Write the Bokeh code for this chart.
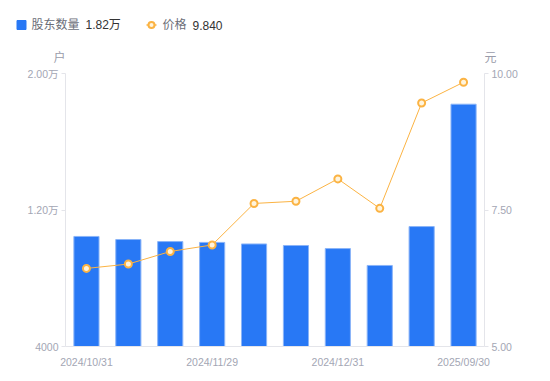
from bokeh.plotting import figure
from bokeh.layouts import column
from bokeh.models import (Range1d, LinearAxis, FixedTicker, FactorRange, ColumnDataSource,
                          CustomJSTickFormatter)
from bokeh.core.properties import value
from bokeh.embed import file_html
from bokeh.resources import INLINE

dates = ["2024/10/31", "2024/11/08", "2024/11/20", "2024/11/29", "2024/12/10",
         "2024/12/20", "2024/12/31", "2025/03/31", "2025/06/30", "2025/09/30"]
holders = [10450, 10270, 10150, 10100, 10010, 9920, 9740, 8750, 11030, 18200]
prices = [6.43, 6.51, 6.74, 6.86, 7.62, 7.66, 8.07, 7.53, 9.46, 9.84]
left_ticks = [4000, 12000, 20000]
left_labels = ["4000", "1.20万", "2.00万"]
right_ticks = [5.0, 7.5, 10.0]
right_labels = ["5.00", "7.50", "10.00"]
shown_dates = ["2024/10/31", "2024/11/29", "2024/12/31", "2025/09/30"]
series_names = ["股东数量", "价格"]
unit_names = ["户", "元"]

FONT = "Liberation Sans, Noto Sans CJK SC"
TICK_COLOR = "#a3a6b4"
AXIS_COLOR = "#e4e5ea"
BAR_COLOR = "#2878f5"
LINE_COLOR = "#fbb343"

W = 550
TOP_H = 64
MAIN_H = 381 - TOP_H

# ---------------- header (legend + unit titles) ----------------
h = figure(width=W, height=TOP_H, x_range=Range1d(0, W), y_range=Range1d(TOP_H, 0),
           x_axis_location=None, y_axis_location=None, min_border=0,
           output_backend="svg", toolbar_location=None)
h.frame_align = False
h.outline_line_color = None
h.xgrid.visible = False
h.ygrid.visible = False

ly = 24.5
h.scatter(x=[21], y=[ly], marker="square", size=9, fill_color=BAR_COLOR, line_color=BAR_COLOR)
h.segment(x0=[146], y0=[ly], x1=[156], y1=[ly], line_color=LINE_COLOR, line_width=1.5)
h.scatter(x=[151], y=[ly], marker="circle", size=6, fill_color="#fff4dc",
          line_color=LINE_COLOR, line_width=2)

def htext(x, y, t, color, size="12px", align="left"):
    h.text(x=[x], y=[y], text=[t], text_color=color, text_font=value(FONT),
           text_font_size=size, text_align=align, text_baseline="middle")

htext(31, ly, series_names[0], "#6b6e78")
htext(85, ly, f"{holders[-1] / 10000:.2f}万", "#333333")
htext(162, ly, series_names[1], "#6b6e78")
htext(192, ly, f"{prices[-1]:.3f}", "#333333")
htext(59, 57, unit_names[0], "#9a9caa", align="center")
htext(490, 57, unit_names[1], "#9a9caa", align="center")

# ---------------- main chart ----------------
src = ColumnDataSource(dict(date=dates, holders=holders, price=prices))

p = figure(x_range=FactorRange(*dates), y_range=Range1d(4000, 20000),
           frame_width=419, frame_height=273,
           min_border_left=65, min_border_right=66, min_border_top=73 - TOP_H,
           min_border_bottom=35,
           output_backend="svg", toolbar_location=None)
p.frame_align = False
p.extra_y_ranges = {"price": Range1d(5, 10)}
p.outline_line_color = None
p.xgrid.visible = False
p.ygrid.visible = False

bars = p.vbar(x="date", top="holders", bottom=4000, width=0.6, source=src,
              fill_color=BAR_COLOR, line_color="#8ab4f8", line_width=1)
line_r = p.line(x="date", y="price", source=src, y_range_name="price",
                line_color=LINE_COLOR, line_width=1)
pts = p.scatter(x="date", y="price", source=src, y_range_name="price",
                size=7, fill_color="#fff4dc", line_color=LINE_COLOR, line_width=2)

def style_axis(ax):
    ax.minor_tick_line_color = None
    ax.major_tick_in = 0
    ax.major_tick_out = 4
    ax.major_tick_line_color = AXIS_COLOR
    ax.axis_line_color = AXIS_COLOR
    ax.major_label_text_color = TICK_COLOR
    ax.major_label_text_font = FONT
    ax.major_label_text_font_size = "10.5px"
    ax.major_label_standoff = 3

ya = p.yaxis[0]
ya.ticker = FixedTicker(ticks=left_ticks)
ya.major_label_overrides = {t: l for t, l in zip(left_ticks, left_labels)}
style_axis(ya)

ra = LinearAxis(y_range_name="price", ticker=FixedTicker(ticks=right_ticks))
ra.major_label_overrides = {t: l for t, l in zip(right_ticks, right_labels)}
style_axis(ra)
p.add_layout(ra, "right")

xa = p.xaxis[0]
style_axis(xa)
xa.formatter = CustomJSTickFormatter(args=dict(shown=shown_dates),
                                     code="return shown.includes(tick) ? tick : '';")
xa.major_tick_line_color = None
xa.major_label_standoff = 5

layout = column(h, p, spacing=0)
open("out.html", "w").write(file_html(layout, INLINE))
